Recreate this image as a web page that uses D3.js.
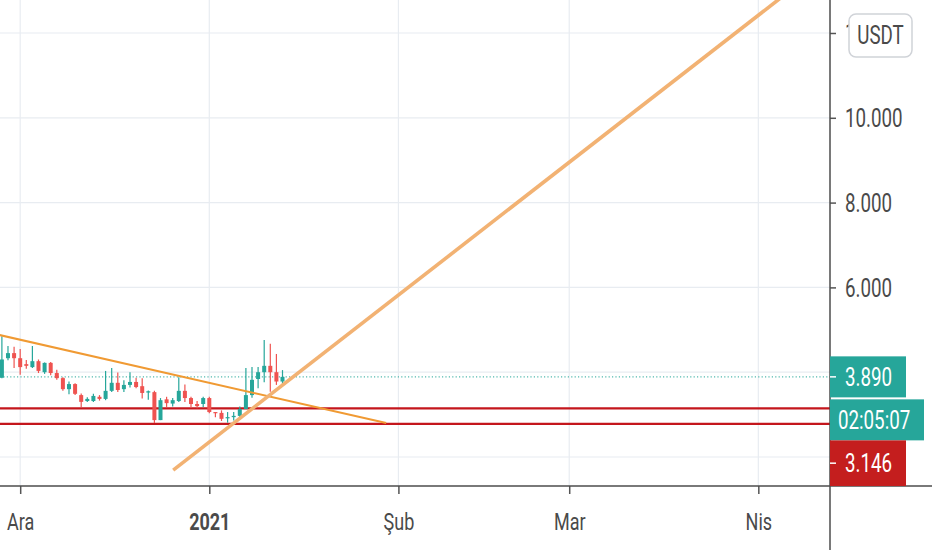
<!DOCTYPE html>
<html>
<head>
<meta charset="utf-8">
<script src="https://cdn.jsdelivr.net/npm/d3@7"></script>
<style>
body { margin: 0; background: #fff; overflow: hidden; }
text { font-family: Roboto, "Noto Sans", sans-serif; }
</style>
</head>
<body>
<script>
// daily candles
let dates = ["2020-11-28","2020-11-29","2020-11-30","2020-12-01","2020-12-02","2020-12-03","2020-12-04",
    "2020-12-05","2020-12-06","2020-12-07","2020-12-08","2020-12-09","2020-12-10","2020-12-11",
    "2020-12-12","2020-12-13","2020-12-14","2020-12-15","2020-12-16","2020-12-17","2020-12-18",
    "2020-12-19","2020-12-20","2020-12-21","2020-12-22","2020-12-23","2020-12-24","2020-12-25",
    "2020-12-26","2020-12-27","2020-12-28","2020-12-29","2020-12-30","2020-12-31","2021-01-01",
    "2021-01-02","2021-01-03","2021-01-04","2021-01-05","2021-01-06","2021-01-07","2021-01-08",
    "2021-01-09","2021-01-10","2021-01-11","2021-01-12","2021-01-13"]
let opens  = [3.87,4.33,4.45,4.33,4.19,4.12,4.26,4.00,4.22,3.98,3.86,3.60,3.72,3.46,3.32,3.32,3.42,
    3.37,3.56,3.75,3.60,3.70,3.77,3.67,3.52,3.53,2.87,3.36,3.26,3.32,3.56,3.39,3.25,3.25,3.39,
    3.06,3.04,2.92,2.94,2.97,3.13,3.46,3.84,4.00,4.15,4.00,3.78]
let highs  = [4.85,4.62,4.60,4.55,4.29,4.62,4.30,4.23,4.24,4.06,3.88,3.78,3.74,3.50,3.41,3.49,3.46,
    4.03,4.10,3.99,3.81,4.00,3.87,3.86,3.57,3.56,3.39,3.42,3.39,3.88,3.71,3.42,3.32,3.42,3.42,
    3.06,3.10,3.06,3.06,3.19,4.10,4.12,4.12,4.76,4.67,4.43,4.05]
let lows   = [3.86,4.28,4.10,3.94,4.08,4.10,3.98,3.96,3.93,3.82,3.56,3.48,3.46,3.18,3.30,3.30,3.33,
    3.34,3.53,3.53,3.53,3.64,3.62,3.38,3.35,2.80,2.87,3.18,3.19,3.30,3.30,3.16,3.15,3.18,3.03,
    2.94,2.85,2.81,2.86,2.92,3.13,3.40,3.62,3.76,3.54,3.70,3.70]
let closes = [4.30,4.45,4.33,4.12,4.15,4.26,4.03,4.22,3.98,3.86,3.60,3.72,3.49,3.30,3.37,3.44,3.37,
    3.56,3.75,3.58,3.70,3.77,3.65,3.51,3.55,2.87,3.34,3.27,3.34,3.56,3.39,3.25,3.20,3.39,3.06,
    3.04,2.90,2.94,2.97,3.13,3.46,3.82,4.00,4.15,4.00,3.78,3.89]

// drawn lines
let downTrendDates = ["2020-11-26 00:00", "2021-01-30 00:00"]
let downTrendPrices = [4.93, 2.80]
let upTrendDates = ["2020-12-26 02:00", "2021-04-08 00:00"]
let upTrendPrices = [1.69, 13.2]
let levels = [3.146, 2.78]

// axes
let priceTicks = [2, 4, 6, 8, 10, 12]
let monthDates = ["2020-12-01", "2021-01-01", "2021-02-01", "2021-03-01", "2021-04-01"]
let monthLabels = ["Ara", "2021", "Şub", "Mar", "Nis"]
let viewStart = "2020-11-27 16:34"
let viewEnd = "2021-04-12 18:00"
let priceMin = 1.316
let priceMax = 12.778

let lastPrice = 3.890
let countdown = "02:05:07"
let currency = "USDT"

let W = 932, H = 550
let pw = 830, ph = 486
let green = "#26a69a", red = "#ef5350", levelRed = "#c4161c"
let squeeze = 0.75

let parseDay = d3.timeParse("%Y-%m-%d")
let parseTime = d3.timeParse("%Y-%m-%d %H:%M")

let x = d3.scaleTime()
    .domain([parseTime(viewStart), parseTime(viewEnd)])
    .range([0, pw])
let y = d3.scaleLinear()
    .domain([priceMin, priceMax])
    .range([ph, 0])

let candles = dates.map((d, i) => ({
    date: parseDay(d), o: opens[i], h: highs[i], l: lows[i], c: closes[i]
}))

// price labels on the axis, stacked so they do not overlap
let lh = 41
let lastTop = y(lastPrice) - lh / 2
let labels = [
    {text: d3.format(".3f")(lastPrice), top: lastTop, h: lh, w: 76, fill: green, tick: true},
    {text: countdown, top: lastTop + lh + 2, h: lh, w: 94, fill: green, tick: false},
    {text: d3.format(".3f")(levels[0]), top: lastTop + 2 * lh + 2, h: ph - (lastTop + 2 * lh + 2), w: 76, fill: "#c41e1e", tick: true}
]
let badgeBox = {x: 849, y: 14, w: 63, h: 43}

let svg = d3.select("body").append("svg")
    .attr("width", W)
    .attr("height", H)

let defs = svg.append("defs")
defs.append("clipPath")
    .attr("id", "plot")
    .append("rect")
    .attr("width", pw)
    .attr("height", ph)
// tick text is cut where the currency badge starts
defs.append("clipPath")
    .attr("id", "badgecut")
    .append("rect")
    .attr("x", -pw)
    .attr("y", -H)
    .attr("width", badgeBox.x)
    .attr("height", 2 * H)

//grid
let grid = svg.append("g").attr("stroke", "#e8ecf1").attr("stroke-width", 1.2)
grid.selectAll(".vg")
    .data(monthDates)
    .enter()
    .append("line")
    .attr("x1", d => x(parseDay(d)))
    .attr("x2", d => x(parseDay(d)))
    .attr("y1", 0)
    .attr("y2", ph)
grid.selectAll(".hg")
    .data(priceTicks)
    .enter()
    .append("line")
    .attr("x1", 0)
    .attr("x2", pw)
    .attr("y1", d => y(d))
    .attr("y2", d => y(d))

let plot = svg.append("g").attr("clip-path", "url(#plot)")

// last price dotted line
plot.append("line")
    .attr("x1", 0)
    .attr("x2", pw)
    .attr("y1", y(lastPrice))
    .attr("y2", y(lastPrice))
    .attr("stroke", green)
    .attr("stroke-opacity", 0.8)
    .attr("stroke-width", 1.2)
    .attr("stroke-dasharray", "1.2,2.2")

// horizontal levels
plot.selectAll(".level")
    .data(levels)
    .enter()
    .append("line")
    .attr("x1", 0)
    .attr("x2", pw)
    .attr("y1", d => y(d))
    .attr("y2", d => y(d))
    .attr("stroke", levelRed)
    .attr("stroke-width", 2.2)

//candles
let cw = 4
let cg = plot.selectAll(".candle")
    .data(candles)
    .enter()
    .append("g")
    .attr("fill", d => d.c >= d.o ? green : red)
    .attr("stroke", d => d.c >= d.o ? green : red)
cg.append("line")
    .attr("x1", d => x(d.date))
    .attr("x2", d => x(d.date))
    .attr("y1", d => y(d.h))
    .attr("y2", d => y(d.l))
    .attr("stroke-width", 1.2)
cg.append("rect")
    .attr("x", d => x(d.date) - cw / 2)
    .attr("y", d => y(Math.max(d.o, d.c)))
    .attr("width", cw)
    .attr("height", d => Math.max(1.2, Math.abs(y(d.o) - y(d.c))))
    .attr("stroke", "none")

// trend lines
let line = d3.line().x(d => x(d[0])).y(d => y(d[1]))
plot.append("path")
    .attr("d", line(downTrendDates.map((d, i) => [parseTime(d), downTrendPrices[i]])))
    .attr("fill", "none")
    .attr("stroke", "#f09a33")
    .attr("stroke-width", 2)
plot.append("path")
    .attr("d", line(upTrendDates.map((d, i) => [parseTime(d), upTrendPrices[i]])))
    .attr("fill", "none")
    .attr("stroke", "#f2b273")
    .attr("stroke-width", 3.6)

//axes
let covered = v => labels.some(l => y(v) > l.top - 8 && y(v) < l.top + l.h + 8)
let yAxis = d3.axisRight(y)
    .tickValues(priceTicks)
    .tickFormat(d3.format(".3f"))
    .tickSize(6)
    .tickSizeOuter(0)
let yg = svg.append("g")
    .attr("transform", "translate(" + pw + ",0)")
    .call(yAxis)
yg.select(".domain").remove()
yg.selectAll(".tick line").attr("stroke", "#555").attr("stroke-width", 1.5)
yg.selectAll(".tick text")
    .attr("x", 15 / squeeze)
    .attr("dy", "0.35em")
    .attr("transform", "scale(" + squeeze + ",1)")
    .attr("fill", "#4a4a4a")
    .style("font-size", "25px")
yg.selectAll(".tick").filter(d => covered(d)).select("text").remove()
yg.selectAll(".tick").filter(d => y(d) > badgeBox.y - 8 && y(d) < badgeBox.y + badgeBox.h + 8)
    .attr("clip-path", "url(#badgecut)")

let xAxis = d3.axisBottom(x)
    .tickValues(monthDates.map(parseDay))
    .tickFormat((d, i) => monthLabels[i])
    .tickSize(8)
    .tickSizeOuter(0)
let xg = svg.append("g")
    .attr("transform", "translate(0," + ph + ")")
    .call(xAxis)
xg.select(".domain").remove()
xg.selectAll(".tick line").attr("stroke", "#555").attr("stroke-width", 1.5)
xg.selectAll(".tick text")
    .attr("y", 36)
    .attr("dy", "0.35em")
    .attr("transform", "scale(" + squeeze + ",1)")
    .attr("fill", "#4a4a4a")
    .style("font-size", "24px")
    .style("font-weight", (d, i) => monthLabels[i] == "2021" ? "bold" : "normal")

svg.append("line")
    .attr("x1", pw).attr("x2", pw)
    .attr("y1", 0).attr("y2", H)
    .attr("stroke", "#4d4d4d").attr("stroke-width", 1.5)
svg.append("line")
    .attr("x1", 0).attr("x2", W)
    .attr("y1", ph).attr("y2", ph)
    .attr("stroke", "#4d4d4d").attr("stroke-width", 1.5)

let lg = svg.selectAll(".plabel")
    .data(labels)
    .enter()
    .append("g")
    .attr("transform", d => "translate(" + pw + "," + d.top + ")")
lg.append("rect")
    .attr("width", d => d.w)
    .attr("height", d => d.h)
    .attr("fill", d => d.fill)
lg.filter(d => d.tick).append("line")
    .attr("x1", 0).attr("x2", 6)
    .attr("y1", d => d.h / 2).attr("y2", d => d.h / 2)
    .attr("stroke", "#fff").attr("stroke-width", 1.5)
lg.append("text")
    .attr("x", d => (d.tick ? 15 : 8) / squeeze)
    .attr("y", d => d.h / 2)
    .attr("dy", "0.35em")
    .attr("transform", "scale(" + squeeze + ",1)")
    .attr("fill", "#fff")
    .style("font-size", "25px")
    .text(d => d.text)

//currency badge
let badge = svg.append("g").attr("transform", "translate(" + badgeBox.x + "," + badgeBox.y + ")")
badge.append("rect")
    .attr("width", badgeBox.w)
    .attr("height", badgeBox.h)
    .attr("rx", 7)
    .attr("fill", "#fff")
    .attr("stroke", "#d0d3d8")
    .attr("stroke-width", 1.5)
badge.append("text")
    .attr("x", badgeBox.w / 2 / squeeze)
    .attr("y", badgeBox.h / 2)
    .attr("dy", "0.35em")
    .attr("text-anchor", "middle")
    .attr("transform", "scale(" + squeeze + ",1)")
    .attr("fill", "#4a4a4a")
    .style("font-size", "25px")
    .text(currency)
</script>
</body>
</html>
